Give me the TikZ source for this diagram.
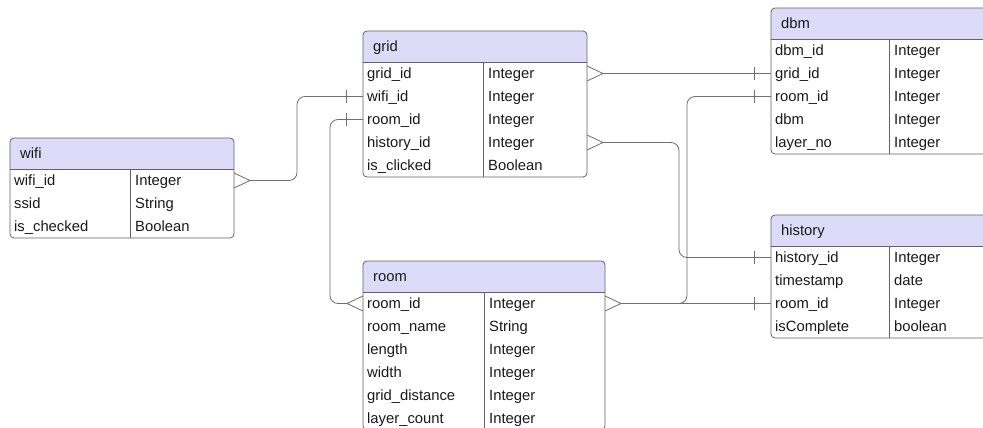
\documentclass[tikz,border=0pt]{standalone}
\usepackage{fontspec}
\setmainfont{Liberation Sans}
\usetikzlibrary{calc}
\definecolor{headfill}{HTML}{DDDCF8}
\definecolor{bordergray}{HTML}{62626C}
\definecolor{linegray}{HTML}{6E6E74}
\definecolor{txt}{HTML}{1A1A1E}
\tikzset{
  border/.style={draw=bordergray, line width=0.8pt},
  conn/.style={draw=linegray, line width=0.8pt},
  cell/.style={anchor=base west, inner sep=0pt, text=txt, font=\fontsize{14.8}{17}\selectfont},
}
% #1 name, #2 x, #3 top, #4 width, #5 divider offset, #6 title, #7 number of rows, #8 rows
\newcommand\ertable[8]{%
  \begin{scope}
    \clip[rounded corners=4pt] (#2,#3) rectangle (#2+#4,#3+31+23*#7);
    \fill[headfill] (#2,#3) rectangle (#2+#4,#3+31);
  \end{scope}
  \draw[border, rounded corners=4pt] (#2,#3) rectangle (#2+#4,#3+31+23*#7);
  \draw[border] (#2,#3+31) -- (#2+#4,#3+31);
  \draw[border] (#2+#5,#3+31) -- (#2+#5,#3+31+23*#7);
  \node[cell] (#1-title) at (#2+10,#3+15.5+5.2) {#6};
  \foreach \fa/\fb [count=\ri] in {#8} {
    \node[cell] (#1-\ri) at (#2+4,#3+31+23*\ri-11.5+5.2) {\fa};
    \node[cell] (#1-\ri-t) at (#2+#5+5,#3+31+23*\ri-11.5+5.2) {\fb};
    \coordinate (#1-\ri-L) at (#2,#3+31+23*\ri-11.5);
    \coordinate (#1-\ri-R) at (#2+#4,#3+31+23*\ri-11.5);
  }
}
\newcommand\footR[1]{\draw[conn] ($(#1)+(0,-7.5)$) -- ($(#1)+(16,0)$) -- ($(#1)+(0,7.5)$);}
\newcommand\footL[1]{\draw[conn] ($(#1)+(0,-7.5)$) -- ($(#1)+(-16,0)$) -- ($(#1)+(0,7.5)$);}
\newcommand\barL[1]{\draw[conn] ($(#1)+(-17,-6.5)$) -- ($(#1)+(-17,6.5)$);}
\begin{document}
\begin{tikzpicture}[x=1pt,y=-1pt]
\fill[white] (0,0) rectangle (983,428);
\useasboundingbox (0,0) rectangle (983,428);

\ertable{wifi}{10}{138}{224}{120}{wifi}{3}{wifi\_id/Integer, ssid/String, is\_checked/Boolean}
\ertable{grid}{363}{31}{224}{120}{grid}{5}{grid\_id/Integer, wifi\_id/Integer, room\_id/Integer, history\_id/Integer, is\_clicked/Boolean}
\ertable{dbm}{771}{8}{240}{118}{dbm}{5}{dbm\_id/Integer, grid\_id/Integer, room\_id/Integer, dbm/Integer, layer\_no/Integer}
\ertable{history}{771}{215}{240}{118}{history}{4}{history\_id/Integer, timestamp/date, room\_id/Integer, isComplete/boolean}
\ertable{room}{363}{261}{242}{121}{room}{6}{room\_id/Integer, room\_name/String, length/Integer, width/Integer, grid\_distance/Integer, layer\_count/Integer}

% wifi -- grid
\footR{wifi-1-R}
\draw[conn, rounded corners=8pt] ($(wifi-1-R)+(16,0)$) -| ($(grid-2-L)+(-66,0)$) -- (grid-2-L);
\barL{grid-2-L}
% grid -- dbm
\footR{grid-1-R}
\draw[conn] ($(grid-1-R)+(16,0)$) -- (dbm-2-L);
\barL{dbm-2-L}
% grid -- room
\barL{grid-3-L}
\draw[conn, rounded corners=8pt] (grid-3-L) -- ($(grid-3-L)+(-33,0)$) |- ($(room-1-L)+(-16,0)$);
\footL{room-1-L}
% grid -- history
\footR{grid-4-R}
\draw[conn, rounded corners=8pt] ($(grid-4-R)+(16,0)$) -| ($(history-1-L)+(-92,0)$) -- (history-1-L);
\barL{history-1-L}
% room -- dbm
\footR{room-1-R}
\draw[conn, rounded corners=8pt] ($(room-1-R)+(16,0)$) -| ($(dbm-3-L)+(-84,0)$) -- (dbm-3-L);
\barL{dbm-3-L}
% room -- history
\draw[conn] ($(room-1-R)+(16,0)$) -- (history-3-L);
\barL{history-3-L}
\end{tikzpicture}
\end{document}
